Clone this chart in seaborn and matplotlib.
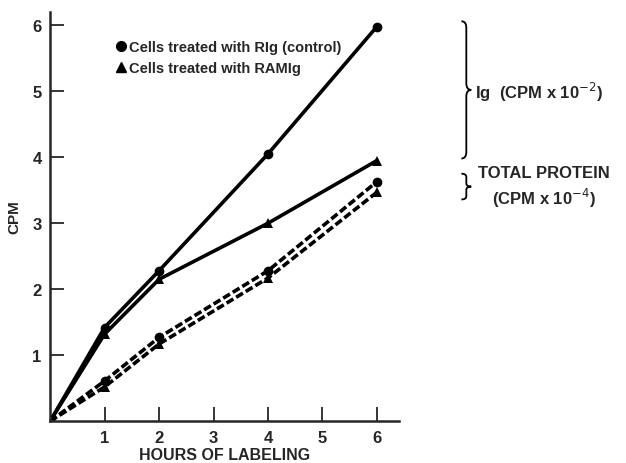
import numpy as np
import pandas as pd
import matplotlib
matplotlib.use('Agg')
import matplotlib.pyplot as plt
from matplotlib.path import Path
from matplotlib.patches import PathPatch
from matplotlib.lines import Line2D
import seaborn as sns


hours = [0, 1, 2, 4, 6]
ig_rig = [0, 1.42, 2.28, 4.05, 5.98]
ig_ramig = [0, 1.32, 2.15, 3.0, 3.95]
prot_rig = [0, 0.61, 1.27, 2.28, 3.63]
prot_ramig = [0, 0.52, 1.17, 2.17, 3.47]

series_names = ['Ig RIg', 'Ig RAMIg', 'Protein RIg', 'Protein RAMIg']
series_values = [ig_rig, ig_ramig, prot_rig, prot_ramig]
legend_labels = ['Cells treated with RIg (control)', 'Cells treated with RAMIg']


def draw_brace(ax, x0, y0, y1, w, r):
    # curly brace opening to the left, tip pointing right
    ym = (y0 + y1) / 2
    xm = x0 + w / 2
    verts = [(x0, y1), (xm, y1), (xm, y1 - r),
             (xm, ym + r), (xm, ym), (x0 + w, ym),
             (xm, ym), (xm, ym - r),
             (xm, y0 + r), (xm, y0), (x0, y0)]
    codes = [Path.MOVETO, Path.CURVE3, Path.CURVE3,
             Path.LINETO, Path.CURVE3, Path.CURVE3,
             Path.CURVE3, Path.CURVE3,
             Path.LINETO, Path.CURVE3, Path.CURVE3]
    patch = PathPatch(Path(verts, codes), fill=False, lw=1.3, color='black', clip_on=False)
    ax.add_patch(patch)


sns.set_style('ticks')
plt.rcParams['font.family'] = ['Liberation Sans', 'DejaVu Sans']

rows = []
for name, vals in zip(series_names, series_values):
    for h, v in zip(hours, vals):
        rows.append({'series': name, 'hours': h, 'cpm': v})
df = pd.DataFrame(rows)

fig = plt.figure(figsize=(6.26, 4.64), dpi=100)
ax = fig.add_axes([0.080, 0.090, 0.557, 0.882])

styles = {
    'Ig RIg': dict(marker='o', linestyle='-'),
    'Ig RAMIg': dict(marker='^', linestyle='-'),
    'Protein RIg': dict(marker='o', linestyle=(0, (2.2, 0.9))),
    'Protein RAMIg': dict(marker='^', linestyle=(0, (2.2, 0.9))),
}
for name in series_names:
    sub = df[df['series'] == name]
    sns.lineplot(data=sub, x='hours', y='cpm', ax=ax, color='black', lw=2.6,
                 markersize=7, markeredgewidth=0, legend=False, **styles[name])

ax.set_xlim(0, 6.4)
ax.set_ylim(0, 6.2)
ax.set_xticks([1, 2, 3, 4, 5, 6])
ax.set_yticks([1, 2, 3, 4, 5, 6])
ax.tick_params(direction='in', length=10, width=1.3, labelsize=12, pad=6)
for lbl in ax.get_xticklabels() + ax.get_yticklabels():
    lbl.set_fontweight('bold')
sns.despine(ax=ax)
ax.spines['left'].set_linewidth(1.8)
ax.spines['bottom'].set_linewidth(1.8)

ax.set_xlabel('HOURS OF LABELING', fontsize=11.5, fontweight='semibold', labelpad=2)
ax.set_ylabel('CPM', fontsize=11, fontweight='bold', labelpad=8)

handles = [Line2D([], [], color='black', marker='o', linestyle='none', markersize=7),
           Line2D([], [], color='black', marker='^', linestyle='none', markersize=7)]
ax.legend(handles, legend_labels, loc='upper left', bbox_to_anchor=(0.165, 0.95),
          frameon=False, handletextpad=0.2, handlelength=0.8, borderpad=0,
          labelspacing=0.5, prop={'size': 10.5, 'weight': 'bold'})

draw_brace(ax, 7.55, 3.98, 6.06, 0.18, 0.1)
draw_brace(ax, 7.55, 3.36, 3.75, 0.18, 0.05)
ax.text(7.8, 5.0, 'Ig  (CPM x 10$^{-2}$)', fontsize=12, fontweight='bold',
        va='center', ha='left', clip_on=False)
ax.text(7.85, 3.55, 'TOTAL PROTEIN\n(CPM x 10$^{-4}$)', fontsize=12, fontweight='semibold',
        va='center', ha='left', multialignment='center', linespacing=1.3, clip_on=False)

fig.savefig('out.png', dpi=100)
